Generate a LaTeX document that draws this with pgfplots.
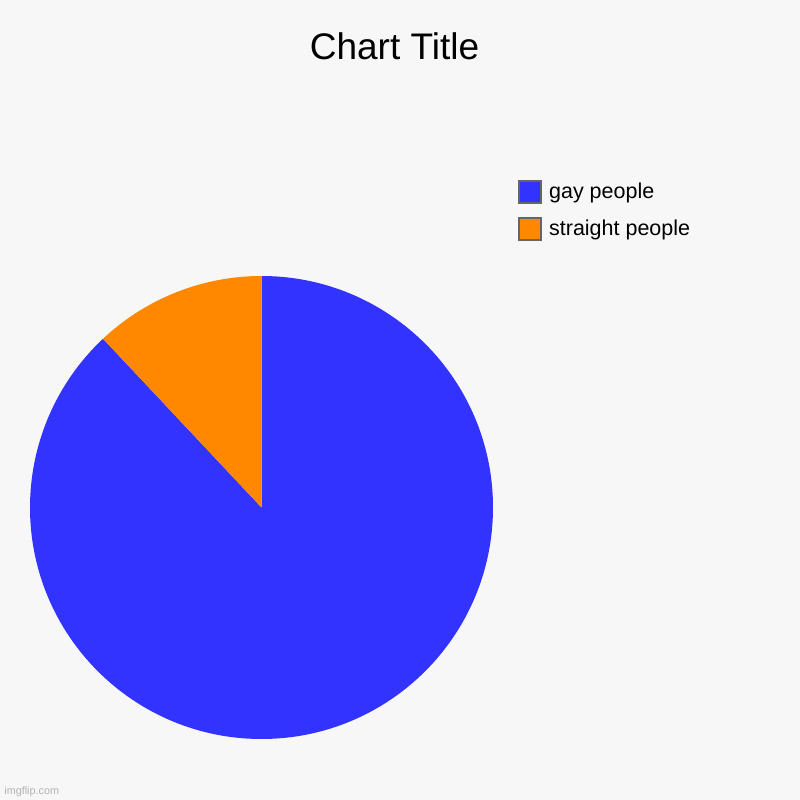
\documentclass[border=0pt]{standalone}
\usepackage{pgfplots}
\usepackage{pgfplotstable}
\pgfplotsset{compat=1.18}
\usepackage{fontspec}
\setmainfont{Liberation Sans}

\definecolor{bgcol}{HTML}{F7F7F7}
\definecolor{gaycol}{HTML}{3333FF}
\definecolor{straightcol}{HTML}{FF8800}
\definecolor{boxgray}{HTML}{666666}

% pie data (percent)
\pgfplotstableread{
label value
gay 88
straight 12
}\piedata

\pgfplotstablegetelem{0}{value}\of\piedata
\let\vgay\pgfplotsretval
\pgfplotstablegetelem{1}{value}\of\piedata
\let\vstraight\pgfplotsretval
\pgfmathsetmacro{\total}{\vgay+\vstraight}
% slices run clockwise from 12 o'clock
\pgfmathsetmacro{\aone}{90-360*(\vgay/\total)}

\begin{document}
\begin{tikzpicture}
\fill[bgcol] (0,0) rectangle (400pt,400pt);
\node[anchor=base, font=\fontsize{18.5pt}{20pt}\selectfont] at (197.25pt,370pt) {Chart Title};
\begin{axis}[
  at={(130.75pt,146.25pt)}, anchor=origin,
  scale only axis, width=231.5pt, height=231.5pt,
  xmin=-1, xmax=1, ymin=-1, ymax=1,
  hide axis,
  legend style={draw=none, fill=none, inner sep=0pt,
    at={(1.0534,1.2073)}, anchor=north west,
    font=\fontsize{10.75pt}{12pt}\selectfont,
    row sep=6.3pt,
    nodes={inner xsep=3.5pt, inner ysep=0pt}},
  legend cell align=left,
  legend image code/.code={
    \draw[#1, draw=boxgray, line width=1pt] (0.5pt,-5.5pt) rectangle (11.5pt,5.5pt);
  },
]
\fill[gaycol] (axis cs:0,0) -- (axis cs:0,1) arc[start angle=90, end angle=\aone, radius=115.75pt] -- cycle;
\fill[straightcol] (axis cs:0,0) -- (axis cs:0,1) arc[start angle=90, end angle=\aone+360, radius=115.75pt] -- cycle;
\addlegendimage{fill=gaycol}
\addlegendentry{gay people}
\addlegendimage{fill=straightcol}
\addlegendentry{straight people}
\end{axis}
\node[anchor=base west, inner sep=0pt, text=black!30, font=\fontsize{5.4pt}{6pt}\selectfont] at (2pt,2.5pt) {imgflip.com};
\pgfresetboundingbox
\useasboundingbox (0,0) rectangle (400pt,400pt);
\end{tikzpicture}
\end{document}
